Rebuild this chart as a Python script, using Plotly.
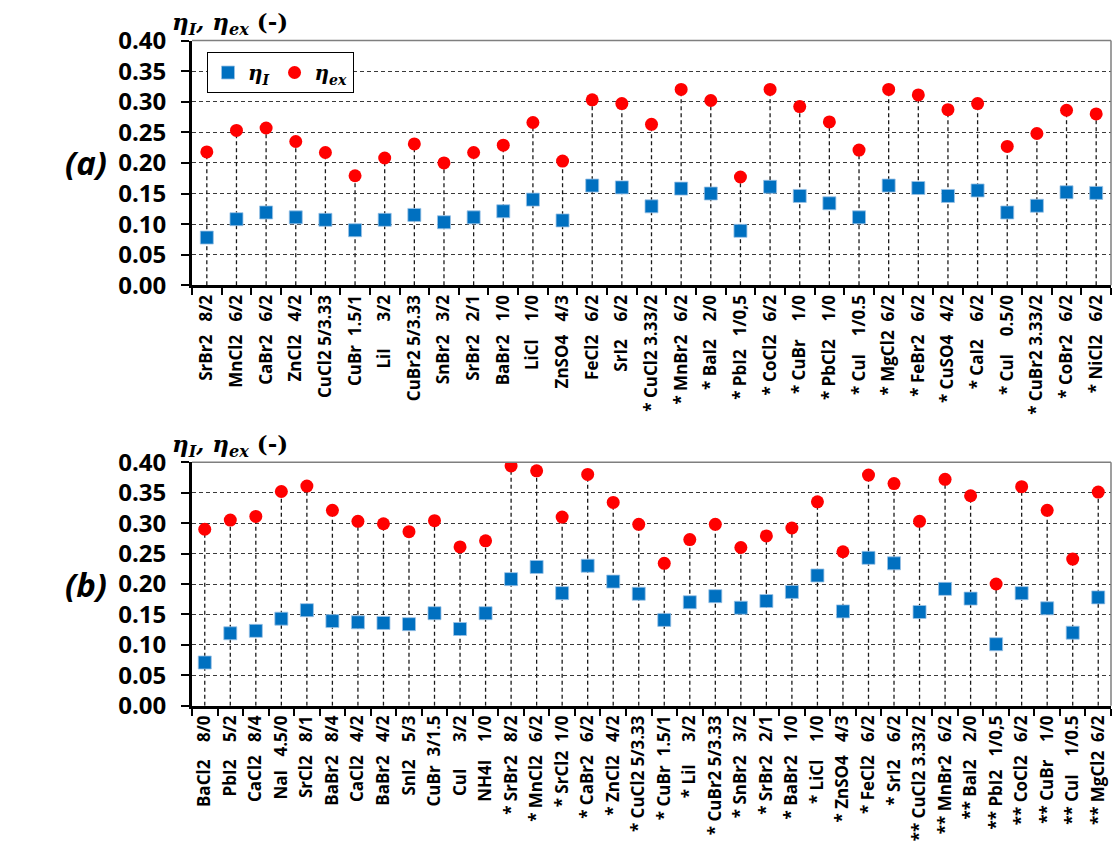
"""Rendements eta_I et eta_ex des sels"""
import plotly.graph_objects as go

# (a) panneau du haut
top_labels = ["SrBr2   8/2", "MnCl2   6/2", "CaBr2   6/2", "ZnCl2   4/2", "CuCl2 5/3.33",
              "CuBr  1.5/1", "LiI      3/2", "CuBr2 5/3.33", "SnBr2   3/2", "SrBr2   2/1",
              "BaBr2   1/0", "LiCl    1/0", "ZnSO4   4/3", "FeCl2   6/2", "SrI2    6/2",
              "* CuCl2 3.33/2", "* MnBr2   6/2", "* BaI2    2/0", "* PbI2   1/0,5", "* CoCl2   6/2",
              "* CuBr    1/0", "* PbCl2    1/0", "* CuI    1/0.5", "* MgCl2  6/2", "* FeBr2   6/2",
              "* CuSO4   4/2", "* CaI2    6/2", "* CuI    0.5/0", "* CuBr2 3.33/2", "* CoBr2   6/2",
              "* NiCl2   6/2"]
top_eta_i = [0.078, 0.108, 0.119, 0.111, 0.107, 0.090, 0.107, 0.115, 0.103, 0.111,
             0.121, 0.140, 0.106, 0.163, 0.160, 0.129, 0.158, 0.150, 0.089, 0.161,
             0.146, 0.134, 0.111, 0.163, 0.159, 0.146, 0.155, 0.119, 0.130, 0.152,
             0.151]
top_eta_ex = [0.218, 0.253, 0.257, 0.235, 0.217, 0.179, 0.208, 0.231, 0.200, 0.217,
              0.229, 0.266, 0.203, 0.303, 0.297, 0.263, 0.320, 0.302, 0.177, 0.320,
              0.292, 0.267, 0.221, 0.320, 0.311, 0.287, 0.297, 0.227, 0.248, 0.286,
              0.280]

# (b) panneau du bas
bot_labels = ["BaCl2    8/0", "PbI2    5/2", "CaCl2   8/4", "NaI   4.5/0", "SrCl2   8/1",
              "BaBr2   8/4", "CaCl2   4/2", "BaBr2   4/2", "SnI2    5/3", "CuBr  3/1.5",
              "CuI      3/2", "NH4I    1/0", "* SrBr2   8/2", "* MnCl2   6/2", "* SrCl2  1/0",
              "* CaBr2   6/2", "* ZnCl2   4/2", "* CuCl2 5/3.33", "* CuBr  1.5/1", "* LiI     3/2",
              "* CuBr2 5/3.33", "* SnBr2   3/2", "* SrBr2   2/1", "* BaBr2   1/0", "* LiCl    1/0",
              "* ZnSO4   4/3", "* FeCl2   6/2", "* SrI2    6/2", "** CuCl2 3.33/2", "** MnBr2   6/2",
              "** BaI2    2/0", "** PbI2   1/0,5", "** CoCl2   6/2", "** CuBr    1/0", "** CuI    1/0.5",
              "** MgCl2  6/2"]
bot_eta_i = [0.071, 0.119, 0.123, 0.143, 0.157, 0.139, 0.137, 0.136, 0.134, 0.152,
             0.126, 0.152, 0.208, 0.228, 0.185, 0.230, 0.204, 0.184, 0.141, 0.170,
             0.180, 0.161, 0.172, 0.187, 0.214, 0.155, 0.243, 0.234, 0.154, 0.192,
             0.176, 0.101, 0.185, 0.160, 0.120, 0.178]
bot_eta_ex = [0.290, 0.305, 0.311, 0.352, 0.361, 0.321, 0.303, 0.299, 0.286, 0.304,
              0.261, 0.271, 0.394, 0.386, 0.310, 0.380, 0.334, 0.298, 0.234, 0.273,
              0.298, 0.260, 0.279, 0.292, 0.335, 0.253, 0.379, 0.365, 0.303, 0.372,
              0.345, 0.200, 0.360, 0.321, 0.241, 0.351]

BLUE = "#0070C0"
RED = "#FF0000"
W, H = 1113, 854
X0, X1 = 192, 1111          # bords gauche/droit des zones de tracé (px)
PANELS = [(40.5, 285.3), (462.3, 705.7)]  # haut/bas de chaque zone (px)


def nbsp(s):
    """garde les espaces multiples"""
    return s.replace(" ", "\u00a0")


def drop_lines(cats, vals):
    """lignes verticales de rappel vers l'axe"""
    xs, ys = [], []
    for c, v in zip(cats, vals):
        xs += [c, c, None]
        ys += [0, v, None]
    return xs, ys


def add_panel(fig, k, labels, eta_i, eta_ex):
    cats = [nbsp(s) for s in labels]
    xa = "x" if k == 1 else "x%d" % k
    ya = "y" if k == 1 else "y%d" % k
    xs, ys = drop_lines(cats, eta_ex)
    fig.add_trace(go.Scatter(x=xs, y=ys, mode="lines", xaxis=xa, yaxis=ya,
                             line=dict(color="#1a1a1a", width=1.3, dash="4px,3px"),
                             showlegend=False, hoverinfo="skip"))
    fig.add_trace(go.Scatter(x=cats, y=eta_i, mode="markers", xaxis=xa, yaxis=ya,
                             name="<b><i>η</i></b><sub><b><i>I</i></b></sub>",
                             marker=dict(symbol="square", size=13, color=BLUE,
                                         line=dict(color="#9cc3e6", width=0.8)),
                             showlegend=(k == 1)))
    fig.add_trace(go.Scatter(x=cats, y=eta_ex, mode="markers", xaxis=xa, yaxis=ya,
                             name="<b><i>η</i></b><sub><b><i>ex</i></b></sub>",
                             marker=dict(symbol="circle", size=13, color=RED),
                             showlegend=(k == 1)))

    top, bot = PANELS[k - 1]
    xkey = "xaxis" if k == 1 else "xaxis%d" % k
    ykey = "yaxis" if k == 1 else "yaxis%d" % k
    fig.update_layout({
        xkey: dict(domain=[X0 / W, X1 / W], anchor=ya, type="category",
                   range=[-0.5, len(cats) - 0.5], showgrid=False, zeroline=False,
                   showline=True, linecolor="black", linewidth=3,
                   ticks="outside", tickson="boundaries", ticklen=7, tickwidth=2,
                   tickcolor="black", tickangle=-90, automargin=False,
                   tickfont=dict(family="Open Sans", size=17, color="black", weight="bold")),
        ykey: dict(domain=[1 - bot / H, 1 - top / H], anchor=xa,
                   range=[0, 0.40], dtick=0.05, tickformat=".2f",
                   showgrid=True, gridcolor="#3a3a3a", gridwidth=1.2, griddash="4px,3px",
                   zeroline=False, showline=True, linecolor="black", linewidth=3,
                   ticks="outside", ticklen=8, tickwidth=2, tickcolor="black",
                   ticklabelstandoff=10, automargin=False,
                   tickfont=dict(family="Open Sans", size=24, color="black", weight="bold")),
    })
    # cadre gris haut et droite
    fig.add_shape(type="line", xref=xa + " domain", yref=ya + " domain",
                  x0=0, x1=1, y0=1, y1=1, line=dict(color="#7f7f7f", width=1.5))
    fig.add_shape(type="line", xref=xa + " domain", yref=ya + " domain",
                  x0=1, x1=1, y0=0, y1=1, line=dict(color="#7f7f7f", width=1.5))
    # titre de l'axe y
    fig.add_annotation(xref="paper", yref="paper", x=170 / W, y=1 - (top - 17) / H,
                       xanchor="left", yanchor="middle", showarrow=False,
                       text="<b><i>η</i><sub><i>I</i></sub><i>, η</i><sub><i>ex</i></sub> (-)</b>",
                       font=dict(family="DejaVu Serif", size=23, color="black"))
    # lettre du panneau
    fig.add_annotation(xref="paper", yref="paper", x=86 / W, y=1 - (top + bot) / 2 / H,
                       xanchor="center", yanchor="middle", showarrow=False,
                       text="<b><i>(%s)</i></b>" % "ab"[k - 1],
                       font=dict(family="Open Sans", size=33, color="black"))


def main():
    fig = go.Figure()
    add_panel(fig, 1, top_labels, top_eta_i, top_eta_ex)
    add_panel(fig, 2, bot_labels, bot_eta_i, bot_eta_ex)
    fig.update_layout(
        template="none", width=W, height=H,
        margin=dict(l=0, r=0, t=0, b=0),
        paper_bgcolor="white", plot_bgcolor="white",
        showlegend=True,
        legend=dict(x=207 / W, y=1 - 52 / H, xanchor="left", yanchor="top",
                    orientation="h", bgcolor="white", bordercolor="black", borderwidth=1,
                    itemwidth=30, font=dict(family="DejaVu Serif", size=20, color="black")),
    )
    fig.write_html("out.html", config={"displayModeBar": False},
                   post_script="document.body.style.margin='0';"
                               "document.body.style.overflow='hidden';")


if __name__ == "__main__":
    main()
